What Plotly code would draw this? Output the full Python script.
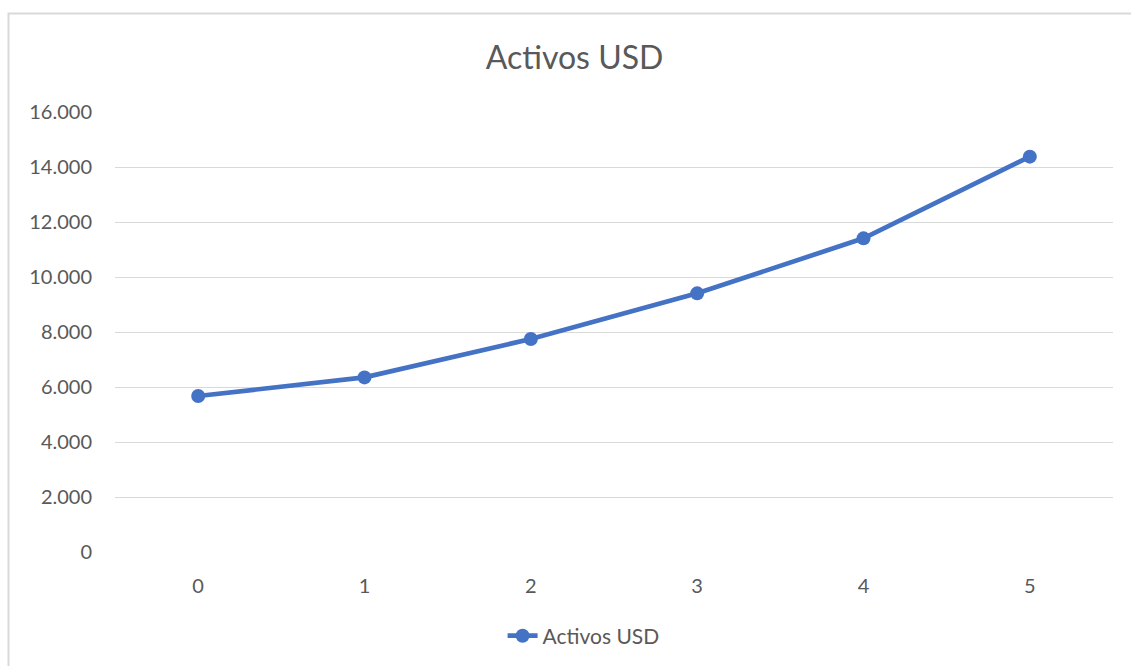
import plotly.graph_objects as go

periodos = [0, 1, 2, 3, 4, 5]
activos_usd = [5673, 6350, 7745, 9406, 11406, 14376]
y_ticks = [0, 2000, 4000, 6000, 8000, 10000, 12000, 14000, 16000]

azul = "#4472C4"
gris_texto = "#595959"
gris_linea = "#D9D9D9"
fuente = "Lato"

fig = go.Figure()

fig.add_trace(
    go.Scatter(
        x=periodos,
        y=activos_usd,
        mode="lines+markers",
        name="Activos USD",
        line=dict(color=azul, width=4.7),
        marker=dict(color=azul, size=14),
    )
)

fig.update_layout(
    width=1131,
    height=666,
    margin=dict(l=115, r=18, t=112, b=114),
    paper_bgcolor="white",
    plot_bgcolor="white",
    separators=",.",
    font=dict(family=fuente, color=gris_texto, size=20),
    title=dict(
        text="Activos USD",
        font=dict(family=fuente, size=32, color=gris_texto),
        xref="container",
        x=0.508,
        xanchor="center",
        yref="container",
        y=0.913,
        yanchor="middle",
    ),
    showlegend=True,
    legend=dict(
        orientation="h",
        xref="container",
        x=0.516,
        xanchor="center",
        yref="container",
        y=0.045,
        yanchor="middle",
        font=dict(family=fuente, size=21, color=gris_texto),
    ),
    xaxis=dict(
        range=[-0.5, 5.5],
        tickvals=periodos,
        ticktext=[str(p) for p in periodos],
        showgrid=False,
        zeroline=False,
        showline=False,
        ticks="",
        ticklabelstandoff=20,
        fixedrange=True,
    ),
    yaxis=dict(
        range=[0, 16000],
        tickvals=y_ticks,
        tickformat=",d",
        showgrid=True,
        gridcolor=gris_linea,
        gridwidth=1.3,
        zeroline=False,
        showline=False,
        ticks="",
        ticklabelstandoff=22,
        fixedrange=True,
    ),
    shapes=[
        dict(
            type="rect",
            xref="paper",
            yref="paper",
            x0=-0.1067,
            x1=1.05,
            y0=-0.5,
            y1=1.224,
            line=dict(color=gris_linea, width=2),
            fillcolor="rgba(0,0,0,0)",
            layer="below",
        )
    ],
)

fig.write_html(
    "out.html",
    config={"displayModeBar": False},
    post_script="document.body.style.margin='0';",
)
